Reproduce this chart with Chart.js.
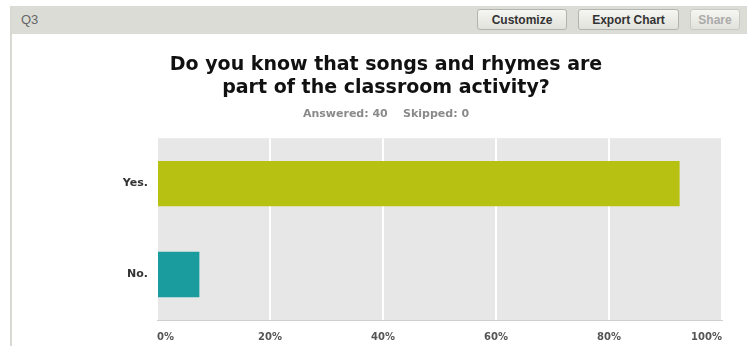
<!DOCTYPE html>
<html>
<head>
<meta charset="utf-8">
<script src="https://cdn.jsdelivr.net/npm/chart.js@4.4.0/dist/chart.umd.min.js"></script>
<style>
  html, body { margin: 0; padding: 0; background: #fff; }
  body { width: 747px; height: 346px; position: relative; overflow: hidden; font-family: "Liberation Sans", Arial, sans-serif; }
  .panel { position: absolute; left: 10px; top: 6px; right: 0; bottom: 0; border-left: 2px solid #d9d9d4; }
  .head { height: 28px; background: #dcdcd7; position: relative; }
  .head .q { position: absolute; left: 9px; top: 6px; font-size: 13px; color: #666; }
  .btn { position: absolute; top: 3px; height: 21px; line-height: 20px; text-align: center; font-size: 12px; font-weight: bold; color: #333;
         border: 1px solid #b4b4ae; border-radius: 3px; background: linear-gradient(#f6f6f2, #e2e2dc); box-sizing: border-box; }
  .btn.off { color: #aaa; border-color: #cacac5; }
  #wrap { position: absolute; left: 2px; top: 28px; width: 735px; height: 312px; }
</style>
</head>
<body>
<div class="panel">
  <div class="head">
    <span class="q">Q3</span>
    <div class="btn" style="left:465px;width:90px;">Customize</div>
    <div class="btn" style="left:566px;width:101px;">Export Chart</div>
    <div class="btn off" style="left:678px;width:50px;">Share</div>
  </div>
  <div id="wrap"><canvas id="chart" width="735" height="312"></canvas></div>
</div>
<script>
// answers and their share of respondents (%)
const categories = ["Yes.", "No."];
const values = [92.5, 7.5];
const barColors = ["#b7c112", "#1a9c9e"];
const titleLines = ["Do you know that songs and rhymes are", "part of the classroom activity?"];
const subtitleText = "Answered: 40    Skipped: 0";

// grey panel behind the bars
const plotBackground = {
  id: "plotBackground",
  beforeDraw(chart) {
    const a = chart.chartArea;
    const c = chart.ctx;
    c.save();
    c.fillStyle = "#e7e7e7";
    c.fillRect(a.left, a.top, a.right - a.left, a.bottom - a.top);
    c.restore();
  }
};

const ctx = document.getElementById("chart").getContext("2d");
new Chart(ctx, {
  type: "bar",
  data: {
    labels: categories,
    datasets: [{
      data: values,
      backgroundColor: barColors,
      borderWidth: 0,
      barPercentage: 0.5,
      categoryPercentage: 1
    }]
  },
  options: {
    indexAxis: "y",
    responsive: false,
    animation: false,
    layout: { padding: { left: 36, right: 27, top: 0, bottom: 0 } },
    plugins: {
      legend: { display: false },
      tooltip: { enabled: false },
      title: {
        display: true,
        text: titleLines,
        color: "#111",
        font: { family: "DejaVu Sans", size: 19, weight: "bold", lineHeight: 1.21 },
        padding: { top: 20, bottom: 8 }
      },
      subtitle: {
        display: true,
        text: subtitleText,
        color: "#8a8a8a",
        font: { family: "DejaVu Sans", size: 11, weight: "bold", lineHeight: 1.2 },
        padding: { top: 0, bottom: 17 }
      }
    },
    scales: {
      x: {
        min: 0,
        max: 100,
        afterFit(s) { s.height = 26; },
        grid: { color: "#ffffff", lineWidth: 2, drawTicks: false },
        border: { display: true, color: "#cfcfcf", width: 1 },
        ticks: {
          stepSize: 20,
          align: "inner",
          padding: 11,
          color: "#555",
          font: { family: "DejaVu Sans", size: 10, weight: "bold" },
          callback: (v) => v + "%"
        }
      },
      y: {
        afterFit(s) { s.width = 107; },
        grid: { display: false, drawTicks: false },
        border: { display: false },
        ticks: {
          padding: 9,
          color: "#333",
          font: { family: "DejaVu Sans", size: 11, weight: "bold" }
        }
      }
    }
  },
  plugins: [plotBackground]
});
</script>
</body>
</html>
